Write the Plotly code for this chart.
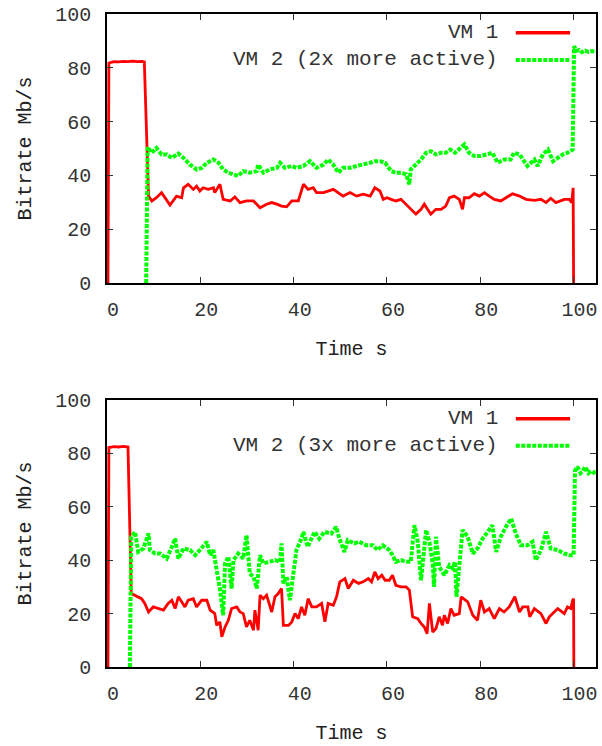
import plotly.graph_objects as go
from plotly.subplots import make_subplots

# ---------------- data ----------------
x_ticks = [0, 20, 40, 60, 80, 100]
y_ticks = [0, 20, 40, 60, 80, 100]
legend_vm1 = "VM 1"
legend_vm2_top = "VM 2 (2x more active)"
legend_vm2_bot = "VM 2 (3x more active)"
x_title = "Time s"
y_title = "Bitrate Mb/s"

top_vm1_t = [0.2, 0.4, 1.5, 2.5, 3.5, 4.5, 5.5, 6.5, 7.5, 8.0, 8.9, 9.6, 10.6, 11.7, 13.5, 14.9, 16.0, 16.4,
             17.4, 18.5, 19.2, 19.9, 20.6, 21.7, 22.8, 23.1, 24.2, 24.9, 26.4, 27.4, 28.5, 29.9, 31.4, 32.8,
             34.2, 35.3, 36.4, 37.4, 38.5, 39.6, 41.0, 42.1, 43.1, 44.2, 44.9, 46.4, 48.5, 50.6, 52.1, 53.5,
             54.9, 56.4, 57.4, 58.5, 59.2, 60.0, 60.9, 61.9, 63.0, 63.7, 64.4, 65.1, 66.2, 67.3, 68.0, 68.7,
             69.4, 70.5, 71.6, 72.6, 73.4, 74.4, 75.5, 76.2, 76.6, 77.6, 78.7, 79.8, 80.9, 81.9, 83.0, 84.4,
             85.9, 86.9, 88.4, 89.8, 91.6, 93.0, 94.1, 95.1, 96.2, 98.0, 99.1, 99.6, 99.9, 100.0]
top_vm1_v = [0, 81.8, 82.3, 82.2, 82.4, 82.3, 82.5, 82.3, 82.4, 82.2, 32.3, 30.5, 31.7, 33.6, 29.0, 32.3, 31.7,
             35.4, 36.7, 34.8, 36.0, 34.2, 35.4, 34.8, 35.4, 33.6, 36.7, 31.1, 30.5, 32.0, 29.9, 30.5, 30.5,
             28.0, 29.3, 29.9, 29.3, 28.6, 28.3, 30.5, 30.5, 36.7, 34.8, 35.4, 33.6, 33.6, 34.8, 32.3, 33.6,
             32.3, 33.0, 32.3, 35.4, 34.2, 31.1, 31.7, 31.1, 30.5, 31.1, 29.9, 28.6, 27.4, 25.6, 27.4, 29.3,
             27.4, 25.6, 27.4, 27.4, 28.6, 31.7, 32.3, 31.1, 27.4, 31.7, 31.7, 33.2, 32.3, 33.6, 32.3, 31.1,
             30.5, 32.0, 33.2, 32.3, 31.1, 30.7, 31.1, 29.9, 31.5, 29.9, 31.1, 31.1, 29.9, 35.4, 0]

top_vm2_t = [8.4, 8.7, 9.6, 10.6, 11.7, 12.8, 13.9, 15.3, 16.4, 17.8, 19.2, 20.3, 21.4, 22.8, 23.9, 24.9, 26.0,
             27.1, 28.1, 29.2, 30.6, 32.1, 32.4, 33.5, 34.9, 36.4, 37.1, 38.1, 39.6, 40.6, 42.1, 43.5, 44.9,
             46.4, 47.4, 48.5, 49.6, 50.6, 52.1, 53.5, 54.9, 56.4, 57.4, 58.5, 59.6, 60.9, 61.9, 63.0, 64.1,
             64.8, 65.1, 66.2, 67.3, 68.4, 69.4, 70.5, 71.6, 72.6, 73.6, 74.6, 76.6, 77.6, 78.7, 80.1, 81.6,
             82.6, 83.7, 85.1, 86.5, 87.2, 88.4, 89.4, 90.1, 91.6, 92.3, 93.4, 94.5, 95.6, 96.6, 97.7, 98.7,
             99.8, 100.1, 100.6, 101.2, 101.8, 102.5, 103.2, 104.0, 104.8]
top_vm2_v = [0, 50.5, 48.4, 50.2, 47.8, 47.8, 46.5, 48.1, 46.5, 44.0, 42.2, 42.8, 44.7, 45.9, 44.7, 42.2, 41.0,
             40.4, 39.8, 41.6, 41.0, 41.6, 44.0, 41.0, 42.2, 42.8, 44.7, 42.8, 43.5, 42.8, 43.5, 45.3, 42.8,
             44.0, 45.9, 44.0, 41.0, 42.8, 42.8, 43.5, 44.0, 44.7, 45.3, 45.3, 44.7, 41.6, 41.0, 41.0, 40.4,
             36.7, 42.2, 44.0, 45.9, 48.4, 49.0, 47.8, 48.4, 48.4, 49.6, 48.4, 51.5, 48.4, 47.2, 47.2, 47.8,
             48.4, 44.7, 45.9, 45.9, 48.4, 47.8, 45.3, 43.5, 45.9, 43.5, 47.8, 49.6, 45.3, 46.5, 47.8, 48.4,
             49.6, 88.0, 86.3, 86.6, 85.8, 86.4, 85.9, 86.2, 86.0]

bot_vm1_t = [0.2, 0.4, 1.5, 2.5, 3.5, 4.5, 5.2, 6.4, 7.4, 8.1, 8.9, 9.9, 11.0, 12.1, 13.1, 13.9, 14.6, 15.3,
             16.0, 16.7, 17.4, 18.5, 19.2, 20.3, 21.4, 22.1, 23.1, 23.5, 24.2, 24.6, 25.3, 26.0, 26.7, 27.8,
             28.5, 29.2, 29.9, 30.6, 31.4, 31.7, 32.4, 32.8, 33.5, 34.2, 35.3, 36.0, 36.7, 37.4, 37.8, 38.9,
             39.6, 40.3, 41.0, 41.7, 42.4, 43.1, 43.9, 44.9, 46.0, 46.7, 47.4, 48.5, 49.2, 49.9, 51.0, 51.7,
             52.8, 53.9, 54.9, 56.0, 56.7, 57.4, 58.1, 58.9, 59.6, 60.5, 61.2, 61.9, 63.0, 64.1, 64.8, 65.5,
             66.6, 67.3, 68.0, 68.6, 69.1, 69.8, 70.5, 71.2, 71.9, 72.3, 73.0, 73.7, 74.4, 75.5, 75.9, 77.3,
             78.4, 79.4, 80.1, 80.9, 81.9, 83.0, 84.1, 85.1, 86.2, 87.4, 88.4, 89.1, 90.2, 90.6, 91.6, 93.0,
             94.1, 94.8, 96.6, 98.0, 98.7, 99.4, 99.8, 100.0, 100.05]
bot_vm1_v = [0, 82.2, 82.5, 82.4, 82.6, 82.4, 27.5, 26.3, 25.6, 23.8, 20.6, 22.5, 21.9, 21.3, 23.8, 25.0, 21.9,
             26.3, 24.4, 22.5, 25.0, 25.6, 22.5, 25.0, 25.0, 21.3, 20.0, 15.6, 16.9, 11.3, 15.0, 17.5, 21.9,
             22.5, 20.6, 20.0, 15.0, 17.5, 13.8, 21.3, 13.8, 26.9, 25.6, 26.9, 20.6, 26.3, 27.5, 29.4, 15.6,
             15.6, 16.9, 20.0, 18.1, 22.5, 19.4, 25.6, 22.5, 22.5, 23.8, 16.9, 23.8, 23.1, 26.3, 31.9, 33.1,
             29.4, 32.5, 31.3, 31.9, 33.1, 31.9, 35.6, 33.1, 34.4, 32.5, 32.5, 34.4, 30.6, 30.0, 30.0, 28.8,
             18.8, 18.1, 16.3, 15.0, 12.5, 23.8, 13.1, 14.4, 18.8, 15.6, 19.4, 16.3, 21.9, 19.4, 20.0, 26.3,
             24.4, 19.4, 17.5, 25.0, 20.6, 21.9, 18.1, 21.9, 20.6, 22.5, 26.3, 20.6, 22.5, 22.5, 18.8, 21.9,
             20.0, 16.3, 18.8, 21.9, 20.0, 22.5, 21.9, 25.0, 25.6, 0]

bot_vm2_t = [4.9, 5.2, 6.0, 6.7, 7.8, 8.9, 9.2, 10.3, 11.4, 12.8, 13.9, 14.6, 15.3, 16.4, 17.8, 18.9, 19.9,
             21.4, 22.1, 22.8, 23.5, 24.2, 24.9, 25.3, 26.0, 26.7, 27.1, 28.1, 29.2, 29.9, 30.6, 31.4, 32.1,
             32.8, 33.5, 34.6, 36.0, 37.1, 37.4, 37.8, 38.5, 39.2, 39.9, 40.6, 41.4, 42.1, 43.0, 43.5, 44.5,
             45.5, 46.6, 48.1, 49.1, 49.8, 50.9, 51.6, 53.0, 54.1, 55.5, 57.0, 58.0, 59.1, 60.5, 61.2, 61.9,
             63.0, 64.1, 65.1, 65.9, 66.6, 67.3, 68.4, 69.1, 69.8, 70.1, 70.5, 71.2, 72.3, 73.4, 74.1, 74.6,
             74.9, 75.5, 76.2, 77.3, 78.4, 79.4, 80.5, 81.6, 82.6, 83.4, 84.4, 85.5, 86.6, 87.6, 88.7, 90.1,
             91.2, 91.9, 93.0, 94.1, 95.1, 96.6, 98.0, 99.1, 100.0, 100.3, 100.8, 101.5, 102.0, 102.5, 103.2,
             103.8, 104.3, 104.8]
bot_vm2_v = [0, 48.8, 50.6, 43.1, 44.4, 50.0, 43.8, 42.5, 42.5, 40.6, 45.0, 48.1, 40.6, 44.4, 43.8, 41.9, 43.8,
             46.9, 41.9, 43.8, 36.3, 29.4, 19.4, 38.8, 41.3, 29.4, 40.0, 42.5, 40.6, 49.4, 35.0, 33.8, 29.4,
             41.9, 38.8, 39.4, 40.0, 39.4, 46.3, 31.3, 33.8, 25.0, 33.8, 43.8, 46.9, 50.6, 45.0, 46.9, 50.6,
             48.1, 50.6, 50.0, 52.5, 48.1, 43.1, 47.5, 46.3, 46.9, 45.6, 45.6, 43.8, 45.6, 43.8, 41.9, 39.4,
             40.0, 39.4, 39.4, 53.1, 46.9, 32.5, 51.3, 46.9, 38.8, 30.0, 48.8, 37.5, 34.4, 38.1, 36.9, 39.4,
             26.3, 37.5, 51.3, 48.8, 42.5, 44.4, 48.1, 50.6, 53.1, 43.1, 48.8, 52.5, 55.6, 50.0, 45.6, 45.6,
             46.9, 40.0, 43.8, 50.6, 44.4, 43.8, 42.5, 41.9, 41.9, 73.5, 75.0, 72.6, 73.4, 75.0, 72.6, 73.4,
             72.8, 73.2]

for a, b in [(top_vm1_t, top_vm1_v), (top_vm2_t, top_vm2_v), (bot_vm1_t, bot_vm1_v), (bot_vm2_t, bot_vm2_v)]:
    assert len(a) == len(b), (len(a), len(b))

# ---------------- styling ----------------
FONT = "Liberation Mono"
FS = 20
RED = "#ff0000"
GREEN = "#00ff00"
GREEN_DASH = "4px,1.5px"
TXT = "#333333"

fig = make_subplots(rows=2, cols=1, vertical_spacing=0.0)

fig.add_trace(go.Scatter(x=top_vm1_t, y=top_vm1_v, mode="lines", line=dict(color=RED, width=2.8),
                         name=legend_vm1, showlegend=False), row=1, col=1)
fig.add_trace(go.Scatter(x=top_vm2_t, y=top_vm2_v, mode="lines",
                         line=dict(color=GREEN, width=4, dash=GREEN_DASH),
                         name=legend_vm2_top, showlegend=False), row=1, col=1)
fig.add_trace(go.Scatter(x=bot_vm1_t, y=bot_vm1_v, mode="lines", line=dict(color=RED, width=2.8),
                         name=legend_vm1, showlegend=False), row=2, col=1)
fig.add_trace(go.Scatter(x=bot_vm2_t, y=bot_vm2_v, mode="lines",
                         line=dict(color=GREEN, width=4, dash=GREEN_DASH),
                         name=legend_vm2_bot, showlegend=False), row=2, col=1)

W, H = 602, 746
L, R = 107, 596
T1, B1 = 14, 283
T2, B2 = 400, 667
plot_h = B2 - T1
fig.update_layout(
    width=W, height=H,
    margin=dict(l=L, r=W - R, t=T1, b=H - B2, autoexpand=False),
    paper_bgcolor="white", plot_bgcolor="white",
    font=dict(family=FONT, size=FS, color=TXT),
)
fig.update_layout(
    yaxis=dict(domain=[(B2 - B1) / plot_h, 1.0]),
    yaxis2=dict(domain=[0.0, (B2 - T2) / plot_h]),
)

axis_common = dict(showline=True, linecolor="black", linewidth=1.5, mirror="ticks",
                   ticks="inside", ticklen=6, tickwidth=1, tickcolor="#333333",
                   showgrid=False, zeroline=False,
                   tickfont=dict(family=FONT, size=FS, color=TXT))

for r in (1, 2):
    fig.update_xaxes(range=[0, 104.8], tickvals=x_ticks, ticktext=[str(v) for v in x_ticks],
                     ticklabelstandoff=7, ticklabelshift=6,
                     title=dict(text=x_title, font=dict(family=FONT, size=FS, color="#222222"), standoff=20),
                     row=r, col=1, **axis_common)
    fig.update_yaxes(range=[0, 100], tickvals=y_ticks, ticktext=[str(v) for v in y_ticks],
                     ticklabelstandoff=10,
                     title=dict(text=y_title, font=dict(family=FONT, size=FS, color="#222222"), standoff=18),
                     row=r, col=1, **axis_common)

# gnuplot-style key: text on the left, line sample on the right
keys = [("x", "y", legend_vm1, legend_vm2_top), ("x2", "y2", legend_vm1, legend_vm2_bot)]
for xr, yr, t1, t2 in keys:
    for txt, yy, color, dash, w in [(t1, 0.93, RED, "solid", 3.5), (t2, 0.829, GREEN, GREEN_DASH, 4)]:
        fig.add_annotation(xref=f"{xr} domain", yref=f"{yr} domain", x=0.804, y=yy,
                           text=txt, showarrow=False, xanchor="right", yanchor="middle",
                           font=dict(family=FONT, size=21, color=TXT))
        fig.add_shape(type="line", xref=f"{xr} domain", yref=f"{yr} domain",
                      x0=0.836, x1=0.947, y0=yy, y1=yy, line=dict(color=color, width=w, dash=dash))

fig.write_html("out.html", config={"displayModeBar": False},
               post_script="document.body.style.margin='0';")
